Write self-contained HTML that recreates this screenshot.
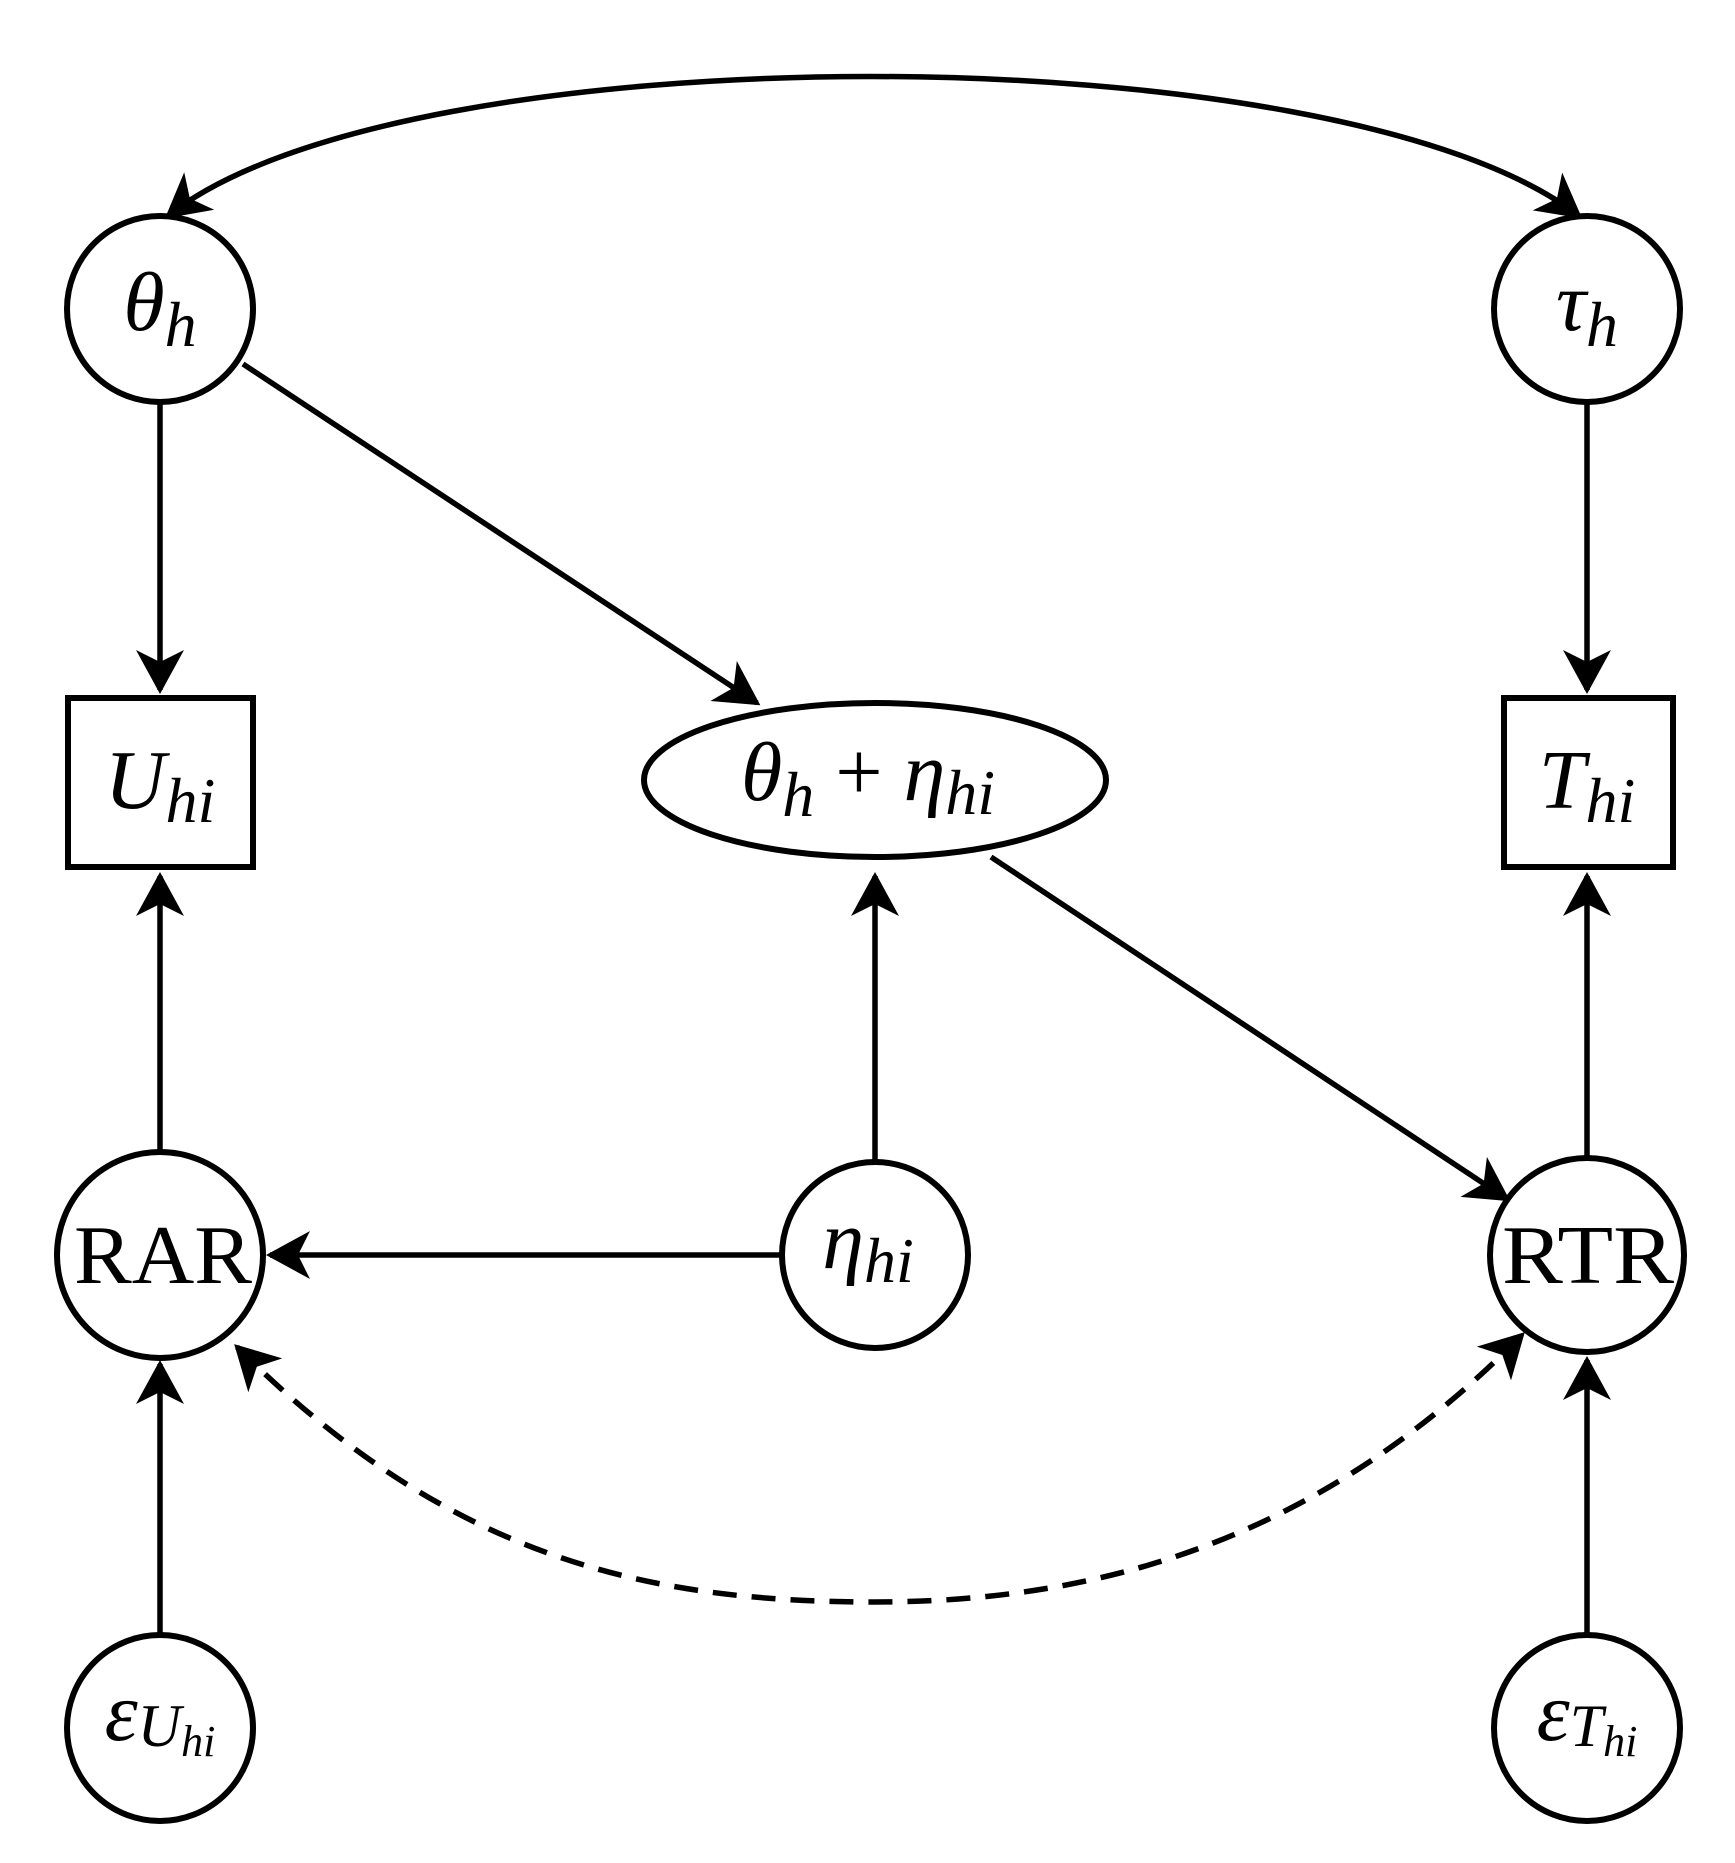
<!DOCTYPE html>
<html><head><meta charset="utf-8"><style>
html,body{margin:0;padding:0;background:#fff;}
svg{display:block;}
text{font-family:"Liberation Serif",serif;fill:#000;}
.it{font-style:italic;}
</style></head><body>
<svg width="1735" height="1863" viewBox="0 0 1735 1863" xmlns="http://www.w3.org/2000/svg">
<defs>
<marker id="ah" markerUnits="userSpaceOnUse" markerWidth="80" markerHeight="80" viewBox="-60 -40 80 80" refX="0" refY="0" orient="auto-start-reverse">
<path d="M4,0 L-40,-24 L-28,0 L-40,24 Z" fill="#000"/>
</marker>
</defs>
<g fill="none" stroke="#000" stroke-width="6">
<circle cx="160" cy="309" r="93"/>
<circle cx="1587" cy="309" r="93"/>
<rect x="68" y="698" width="185" height="169"/>
<rect x="1504" y="698" width="169" height="169"/>
<ellipse cx="875" cy="780" rx="231" ry="77"/>
<circle cx="160" cy="1255" r="103"/>
<circle cx="875" cy="1255" r="93"/>
<circle cx="1587" cy="1255" r="97"/>
<circle cx="160" cy="1728" r="93"/>
<circle cx="1587" cy="1728" r="93"/>
</g>
<g fill="none" stroke="#000" stroke-width="5.5">
<path d="M168,216 C400,30 1340,30 1579,216" marker-start="url(#ah)" marker-end="url(#ah)"/>
<line x1="160" y1="402" x2="160" y2="690" marker-end="url(#ah)"/>
<line x1="1587" y1="402" x2="1587" y2="690" marker-end="url(#ah)"/>
<line x1="243" y1="364" x2="757" y2="703" marker-end="url(#ah)"/>
<line x1="991" y1="857" x2="1507" y2="1199" marker-end="url(#ah)"/>
<line x1="875" y1="1162" x2="875" y2="876" marker-end="url(#ah)"/>
<line x1="782" y1="1255" x2="270" y2="1255" marker-end="url(#ah)"/>
<line x1="160" y1="1152" x2="160" y2="876" marker-end="url(#ah)"/>
<line x1="1587" y1="1158" x2="1587" y2="876" marker-end="url(#ah)"/>
<line x1="160" y1="1635" x2="160" y2="1364" marker-end="url(#ah)"/>
<line x1="1587" y1="1635" x2="1587" y2="1360" marker-end="url(#ah)"/>
<path d="M237,1347 C450,1560 650,1602 875,1602 C1100,1602 1320,1540 1522,1335" stroke-dasharray="24,15" marker-start="url(#ah)" marker-end="url(#ah)"/>
</g>
<text x="160" y="330" font-size="84" class="it" text-anchor="middle">θ<tspan font-size="64" dy="16">h</tspan></text>
<text x="1587" y="330" font-size="84" class="it" text-anchor="middle">τ<tspan font-size="64" dy="16">h</tspan></text>
<text x="160" y="808" font-size="84" class="it" text-anchor="middle">U<tspan font-size="64" dy="14">hi</tspan></text>
<text x="1587" y="808" font-size="84" class="it" text-anchor="middle">T<tspan font-size="64" dy="14">hi</tspan></text>
<text x="868" y="800" font-size="84" class="it" text-anchor="middle">θ<tspan font-size="64" dy="16">h</tspan><tspan font-style="normal" dy="-16"> + </tspan>η<tspan font-size="64" dy="14">hi</tspan></text>
<text x="74" y="1283" font-size="84" textLength="178" lengthAdjust="spacingAndGlyphs">RAR</text>
<text x="1502" y="1283" font-size="84" textLength="172" lengthAdjust="spacingAndGlyphs">RTR</text>
<text x="868" y="1268" font-size="84" class="it" text-anchor="middle">η<tspan font-size="64" dy="14">hi</tspan></text>
<text x="160" y="1740" font-size="84" class="it" text-anchor="middle">ε<tspan font-size="60" dy="6">U</tspan><tspan font-size="44" dy="10">hi</tspan></text>
<text x="1587" y="1740" font-size="84" class="it" text-anchor="middle">ε<tspan font-size="60" dy="6">T</tspan><tspan font-size="44" dy="10">hi</tspan></text>
</svg>
</body></html>
